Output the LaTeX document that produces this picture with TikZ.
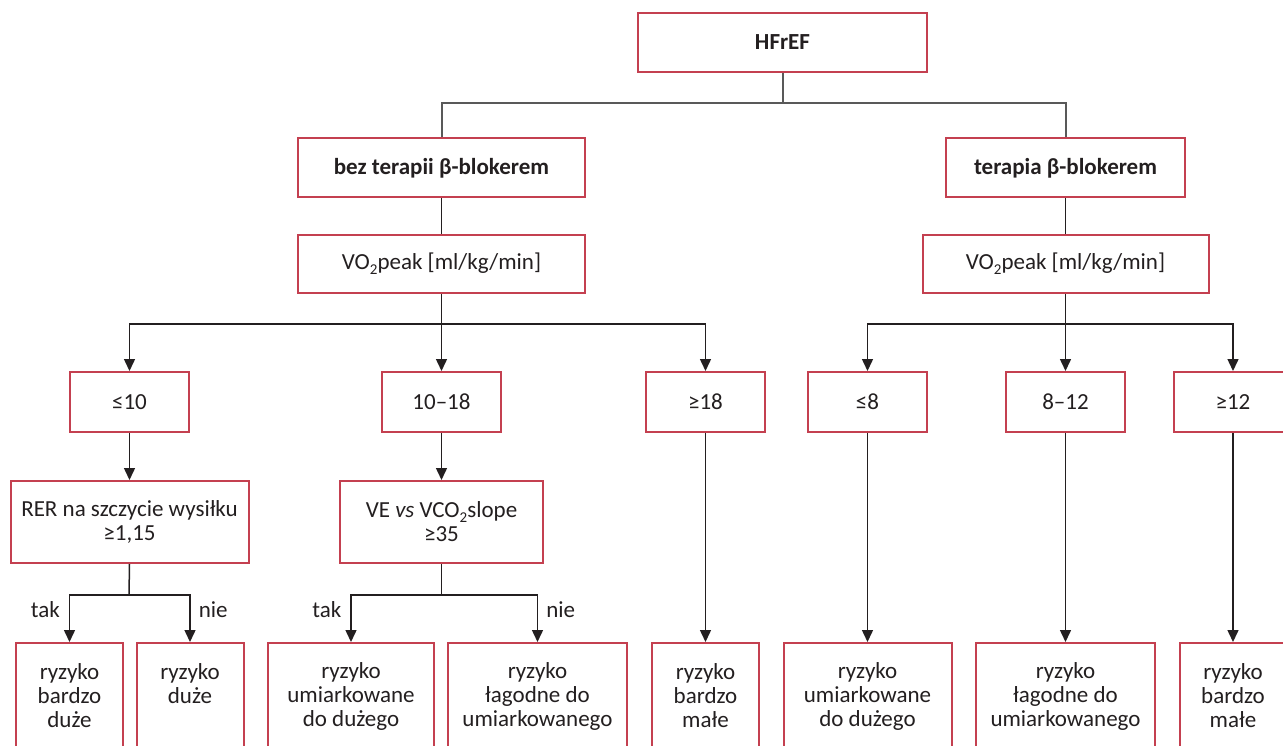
\documentclass[tikz,border=0pt]{standalone}
\usepackage{fontspec}
\setmainfont{Carlito}
\usetikzlibrary{arrows.meta,positioning}

\definecolor{boxred}{RGB}{196,64,80}
\definecolor{ink}{RGB}{35,31,32}
\newcommand{\lowtwo}{\raisebox{-0.45ex}{\fontsize{15}{15}\selectfont 2}}

\tikzset{
  box/.style={draw=boxred,line width=2pt,fill=white,align=center,inner sep=0pt,
    text=ink,font=\fontsize{23}{24}\selectfont},
  bigbox/.style={box,font=\bfseries\fontsize{23}{24}\selectfont,minimum height=59pt},
  valbox/.style={box,minimum width=119pt,minimum height=60pt},
  riskbox/.style={box,minimum height=106pt},
  link/.style={line width=1.5pt,draw=ink},
  toplink/.style={line width=2pt,draw=black!65},
  arr/.style={link,-{Triangle[width=11pt,length=12pt]}},
  branch/.style={text=ink,font=\fontsize{23}{24}\selectfont,inner sep=0pt}
}

\begin{document}
\begin{tikzpicture}[x=1pt,y=-1pt,on grid]
  \useasboundingbox (0,0) rectangle (1283,746);
  \clip (0,0) rectangle (1283,746);

  \node[bigbox,minimum width=289pt] (hfref) at (782.5,42.5) {HFrEF};
  \node[bigbox,minimum width=287pt] (bez) [below left=125.5pt and 341pt of hfref] {bez terapii β-blokerem};
  \node[bigbox,minimum width=239pt] (terapia) [below right=125.5pt and 283pt of hfref] {terapia β-blokerem};
  \node[box,minimum width=287pt,minimum height=58pt] (vo2a) [below=96pt of bez] {VO\lowtwo peak [ml/kg/min]};
  \node[box,minimum width=286pt,minimum height=58pt] (vo2b) [below=96pt of terapia] {VO\lowtwo peak [ml/kg/min]};

  % progi VO2peak
  \node[valbox] (le10)  [below left=138pt and 312pt of vo2a]  {≤10};
  \node[valbox] (r1018) [below=138pt of vo2a]                 {10–18};
  \node[valbox] (ge18)  [below right=138pt and 264pt of vo2a] {≥18};
  \node[valbox] (le8)   [below left=138pt and 198pt of vo2b]  {≤8};
  \node[valbox] (r812)  [below=138pt of vo2b]                 {8–12};
  \node[valbox] (ge12)  [below right=138pt and 167.5pt of vo2b] {≥12};

  \node[box,minimum width=238pt,minimum height=82pt] (rer) [below=120pt of le10] {RER na szczycie wysiłku\\≥1,15};
  \node[box,minimum width=203pt,minimum height=82pt] (ve) [below=120pt of r1018] {VE \textit{vs} VCO\lowtwo slope\\≥35};

  % ryzyko
  \node[riskbox,minimum width=107pt] (bdu)  [below left=174pt and 60pt of rer]    {ryzyko\\bardzo\\duże};
  \node[riskbox,minimum width=107pt] (du)   [below right=174pt and 60.5pt of rer] {ryzyko\\duże\\\mbox{}};
  \node[riskbox,minimum width=166pt] (umA)  [below left=174pt and 90.5pt of ve]   {ryzyko\\umiarkowane\\do dużego};
  \node[riskbox,minimum width=179pt] (lagA) [below right=174pt and 96pt of ve]    {ryzyko\\łagodne do\\umiarkowanego};
  \node[riskbox,minimum width=107pt] (bmA)  [below=294pt of ge18] {ryzyko\\bardzo\\małe};
  \node[riskbox,minimum width=168pt] (umB)  [below=294pt of le8]  {ryzyko\\umiarkowane\\do dużego};
  \node[riskbox,minimum width=179pt] (lagB) [below=294pt of r812] {ryzyko\\łagodne do\\umiarkowanego};
  \node[riskbox,minimum width=107pt] (bmB)  [below=294pt of ge12] {ryzyko\\bardzo\\małe};

  \coordinate (top) at (782.5,103);
  \coordinate (splitA) at (441.5,324);
  \coordinate (splitB) at (1065.5,324);
  \coordinate (splitC) at (129,595);
  \coordinate (splitD) at (441.5,595);

  \draw[toplink] (hfref.south) -- (top);
  \draw[toplink] (bez.north) |- (top) -| (terapia.north);
  \draw[link] (bez) -- (vo2a);
  \draw[link] (terapia) -- (vo2b);

  \draw[link] (vo2a.south) -- (splitA);
  \draw[arr] (splitA) -| (le10.north);
  \draw[arr] (splitA) -- (r1018.north);
  \draw[arr] (splitA) -| (ge18.north);
  \draw[link] (vo2b.south) -- (splitB);
  \draw[arr] (splitB) -| (le8.north);
  \draw[arr] (splitB) -- (r812.north);
  \draw[arr] (splitB) -| (ge12.north);

  \draw[arr] (le10) -- (rer);
  \draw[arr] (r1018) -- (ve);
  \draw[arr] (ge18) -- (bmA);
  \draw[arr] (le8) -- (umB);
  \draw[arr] (r812) -- (lagB);
  \draw[arr] (ge12) -- (bmB);

  \draw[link] (rer.south) -- (splitC);
  \draw[arr] (splitC) -| (bdu.north) node[branch,pos=0.66,left=9pt] (takA) {tak};
  \draw[arr] (splitC) -| (du.north) node[branch,pos=0.66,right=8pt] (nieA) {nie};
  \draw[link] (ve.south) -- (splitD);
  \draw[arr] (splitD) -| (umA.north) node[branch,pos=0.66,left=9pt] (takB) {tak};
  \draw[arr] (splitD) -| (lagA.north) node[branch,pos=0.66,right=8pt] (nieB) {nie};
\end{tikzpicture}
\end{document}
